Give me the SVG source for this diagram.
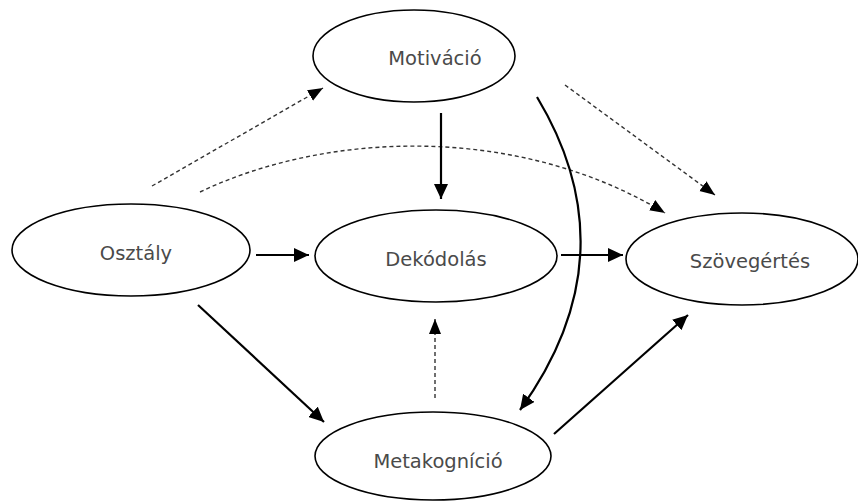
<svg xmlns="http://www.w3.org/2000/svg" width="858" height="502" viewBox="0 0 858 502">
<defs>
<style>
.node ellipse{fill:#fff;stroke:#000;stroke-width:1.6}
.node text{font-family:"DejaVu Sans",Verdana,sans-serif;font-size:19.5px;fill:#4a4a4a;text-anchor:middle}
.solid{fill:none;stroke:#000;stroke-width:2.2}
.dash{fill:none;stroke:#333;stroke-width:1.4;stroke-dasharray:4 3}
</style>
<marker id="ah" markerUnits="userSpaceOnUse" markerWidth="16" markerHeight="14" viewBox="0 0 16 14" refX="15" refY="7" orient="auto">
<path d="M0,0 L15,7 L0,14 Z" fill="#000"/>
</marker>
<marker id="ahs" markerUnits="userSpaceOnUse" markerWidth="16" markerHeight="14" viewBox="0 0 16 14" refX="15" refY="7" orient="auto">
<path d="M0,1 L15,7 L0,13 Z" fill="#000"/>
</marker>
</defs>
<rect width="858" height="502" fill="#fff"/>
<g id="connectors">
<path class="dash" d="M152,186 L323,88" marker-end="url(#ahs)"/>
<path class="dash" d="M200,192 C330,130 520,125 665,213" marker-end="url(#ahs)"/>
<path class="dash" d="M565,85 L715,195" marker-end="url(#ahs)"/>
<path class="dash" d="M435,398 L435,319" marker-end="url(#ahs)"/>
<path class="solid" d="M441,113 L441,199" marker-end="url(#ah)"/>
<path class="solid" d="M537,97 Q632,255 520,410" marker-end="url(#ah)"/>
<path class="solid" d="M256,255 L309,255" marker-end="url(#ah)"/>
<path class="solid" d="M561,255 L623,255" marker-end="url(#ah)"/>
<path class="solid" d="M198,305 L324,422" marker-end="url(#ah)"/>
<path class="solid" d="M554,434 L688,315" marker-end="url(#ah)"/>
</g>
<g id="motivacio" class="node"><ellipse cx="414" cy="56" rx="101" ry="46"/><text x="435" y="65">Motiváció</text></g>
<g id="osztaly" class="node"><ellipse cx="131" cy="250" rx="119" ry="46"/><text x="136" y="260">Osztály</text></g>
<g id="dekodolas" class="node"><ellipse cx="436" cy="256" rx="121" ry="46"/><text x="436" y="266">Dekódolás</text></g>
<g id="szovegertes" class="node"><ellipse cx="742" cy="259" rx="116" ry="46"/><text x="750" y="268">Szövegértés</text></g>
<g id="metakognicio" class="node"><ellipse cx="433" cy="456" rx="118" ry="44"/><text x="438" y="468">Metakogníció</text></g>
</svg>
